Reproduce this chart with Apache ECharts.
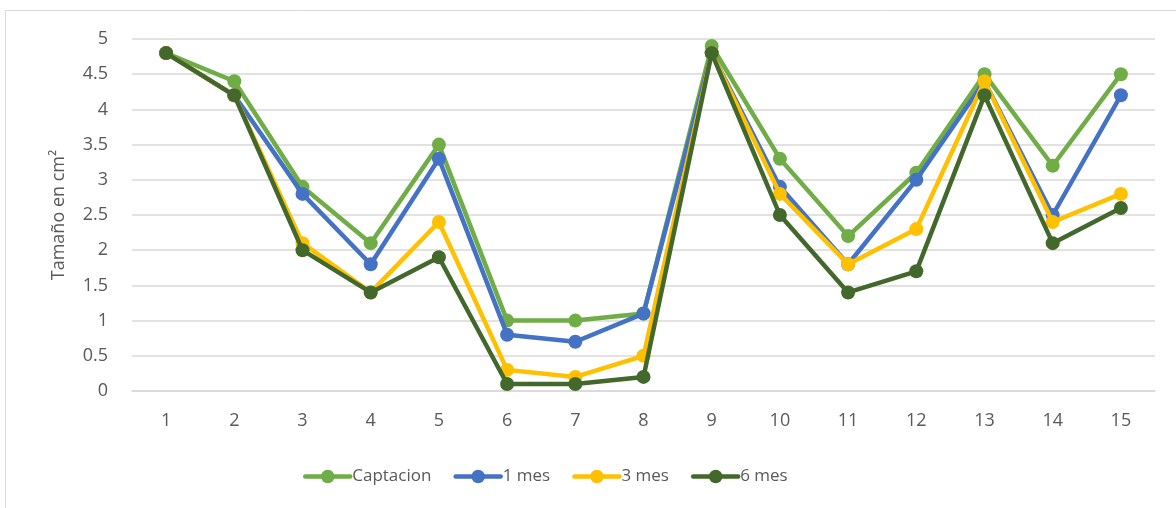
<!DOCTYPE html>
<html>
<head>
<meta charset="utf-8">
<script src="https://cdn.jsdelivr.net/npm/echarts@6/dist/echarts.min.js"></script>
<style>
  html, body { margin: 0; padding: 0; background: #fff; }
  #chart { width: 1176px; height: 508px; }
</style>
</head>
<body>
<div id="chart"></div>
<script>
// Sample numbers along the x axis
const categories = ['1','2','3','4','5','6','7','8','9','10','11','12','13','14','15'];

// Measured size (cm²) at each follow-up stage
const captacion = [4.8, 4.4, 2.9, 2.1, 3.5, 1.0, 1.0, 1.1, 4.9, 3.3, 2.2, 3.1, 4.5, 3.2, 4.5];
const mes1      = [4.8, 4.2, 2.8, 1.8, 3.3, 0.8, 0.7, 1.1, 4.8, 2.9, 1.8, 3.0, 4.4, 2.5, 4.2];
const mes3      = [4.8, 4.2, 2.1, 1.4, 2.4, 0.3, 0.2, 0.5, 4.8, 2.8, 1.8, 2.3, 4.4, 2.4, 2.8];
const mes6      = [4.8, 4.2, 2.0, 1.4, 1.9, 0.1, 0.1, 0.2, 4.8, 2.5, 1.4, 1.7, 4.2, 2.1, 2.6];

const seriesNames = ['Captacion', '1 mes', '3 mes', '6 mes'];
const seriesColors = ['#70AD47', '#4472C4', '#FFC000', '#43682B'];
const seriesData = [captacion, mes1, mes3, mes6];

const FONT = 'Open Sans, Liberation Sans, sans-serif';
const TEXT = '#595959';

const chart = echarts.init(document.getElementById('chart'), null, { renderer: 'canvas' });

chart.setOption({
  animation: false,
  backgroundColor: '#fff',
  textStyle: { fontFamily: FONT },
  graphic: [{
    type: 'rect',
    shape: { x: 5.5, y: 10.5, width: 1200, height: 520 },
    style: { fill: 'none', stroke: '#D9D9D9', lineWidth: 1 },
    silent: true,
    z: -1
  }],
  grid: { left: 132, right: 21, top: 39, bottom: 117 },
  legend: {
    data: seriesNames,
    bottom: 18,
    left: 298,
    itemWidth: 45,
    itemHeight: 17,
    itemGap: 22,
    lineStyle: { width: 4.5 },
    textStyle: { color: TEXT, fontSize: 17, fontFamily: FONT, padding: [0, 0, 0, -3] }
  },
  xAxis: {
    type: 'category',
    data: categories,
    boundaryGap: true,
    axisLine: { show: true, lineStyle: { color: '#D9D9D9', width: 1.5 } },
    axisTick: { show: false },
    axisLabel: { color: TEXT, fontSize: 18, margin: 21, fontFamily: FONT }
  },
  yAxis: {
    type: 'value',
    min: 0,
    max: 5,
    interval: 0.5,
    name: 'Tamaño en cm²',
    nameLocation: 'middle',
    nameRotate: 90,
    nameGap: 64,
    nameTextStyle: { color: TEXT, fontSize: 18, fontFamily: FONT },
    axisLine: { show: false },
    axisTick: { show: false },
    axisLabel: { color: TEXT, fontSize: 18, margin: 24, fontFamily: FONT },
    splitLine: { lineStyle: { color: '#D9D9D9', width: 1.5 } }
  },
  series: seriesNames.map((name, i) => ({
    name: name,
    type: 'line',
    data: seriesData[i],
    symbol: 'circle',
    symbolSize: 14,
    color: seriesColors[i],
    lineStyle: { width: 4.5, color: seriesColors[i], cap: 'round', join: 'round' },
    itemStyle: { color: seriesColors[i] },
    z: 2 + i
  }))
});
</script>
</body>
</html>
